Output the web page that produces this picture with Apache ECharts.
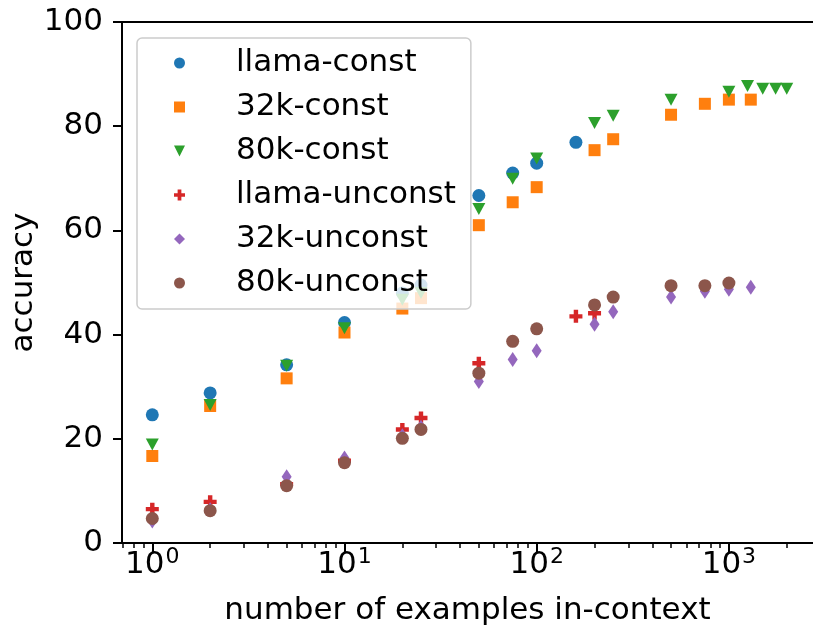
<!DOCTYPE html>
<html>
<head>
<meta charset="utf-8">
<script src="https://cdn.jsdelivr.net/npm/echarts@6/dist/echarts.min.js"></script>
<style>
  html, body { margin: 0; padding: 0; background: #ffffff; }
  #chart { width: 813px; height: 626px; }
</style>
</head>
<body>
<div id="chart"></div>
<script>
// Accuracy vs. number of in-context examples, per model and decoding mode
const FONT = 'DejaVu Sans';
const FS = 31;

const seriesNames = ['llama-const', '32k-const', '80k-const', 'llama-unconst', '32k-unconst', '80k-unconst'];
const seriesColors = ['#1f77b4', '#ff7f0e', '#2ca02c', '#d62728', '#9467bd', '#8c564b'];

const llamaConstX = [1, 2, 5, 10, 20, 25, 50, 75, 100, 160];
const llamaConstY = [24.6, 28.8, 34.2, 42.3, 48.0, 49.5, 66.7, 71.0, 72.9, 76.9];

const k32ConstX = [1, 2, 5, 10, 20, 25, 50, 75, 100, 200, 250, 500, 750, 1000, 1300];
const k32ConstY = [16.7, 26.3, 31.6, 40.4, 45.0, 47.0, 61.0, 65.4, 68.3, 75.4, 77.5, 82.2, 84.3, 85.1, 85.1];

const k80ConstX = [1, 2, 5, 10, 20, 25, 50, 75, 100, 200, 250, 500, 1000, 1250, 1500, 1750, 2000];
const k80ConstY = [18.9, 26.5, 34.0, 41.2, 46.7, 48.0, 64.1, 69.9, 73.8, 80.6, 82.0, 85.1, 86.6, 87.7, 87.2, 87.2, 87.2];

const llamaUnconstX = [1, 2, 5, 10, 20, 25, 50, 160, 200];
const llamaUnconstY = [6.5, 7.9, 11.3, 15.8, 21.8, 24.0, 34.5, 43.5, 44.1];

const k32UnconstX = [1, 2, 5, 10, 20, 25, 50, 75, 100, 200, 250, 500, 750, 1000, 1300];
const k32UnconstY = [4.2, 6.4, 12.7, 16.3, 20.6, 22.2, 31.0, 35.2, 36.9, 42.0, 44.4, 47.2, 48.3, 48.7, 49.1];

const k80UnconstX = [1, 2, 5, 10, 20, 25, 50, 75, 100, 200, 250, 500, 750, 1000];
const k80UnconstY = [4.7, 6.2, 11.0, 15.4, 20.1, 21.8, 32.6, 38.7, 41.1, 45.7, 47.2, 49.4, 49.4, 49.9];

const yTicks = [0, 20, 40, 60, 80, 100];
const xMajorTicks = [1, 10, 100, 1000];
const xMinorTicks = [0.7, 0.8, 0.9, 2, 3, 4, 5, 6, 7, 8, 9, 20, 30, 40, 50, 60, 70, 80, 90,
                     200, 300, 400, 500, 600, 700, 800, 900, 2000];

const X_MIN = 0.6956;
const X_MAX = 2739;

// marker shapes
const SYM_TRI_DOWN = 'path://M0,0L10,0L5,10Z';
const SYM_PLUS = 'path://M3.3,0H6.7V3.3H10V6.7H6.7V10H3.3V6.7H0V3.3H3.3Z';
const seriesSymbols = ['circle', 'rect', SYM_TRI_DOWN, SYM_PLUS, 'diamond', 'circle'];
const seriesSizes = [13, 12, [13, 12], 13, [10, 15], 13];

const xs = [llamaConstX, k32ConstX, k80ConstX, llamaUnconstX, k32UnconstX, k80UnconstX];
const ys = [llamaConstY, k32ConstY, k80ConstY, llamaUnconstY, k32UnconstY, k80UnconstY];

const chart = echarts.init(document.getElementById('chart'), null, { renderer: 'canvas' });

const series = seriesNames.map((name, i) => ({
  name: name,
  type: 'scatter',
  xAxisIndex: 0,
  yAxisIndex: 0,
  symbol: seriesSymbols[i],
  symbolSize: seriesSizes[i],
  itemStyle: { color: seriesColors[i], opacity: 1 },
  emphasis: { disabled: true },
  data: xs[i].map((x, j) => [x, ys[i][j]])
}));

const axisLineStyle = { color: '#000000', width: 2 };

const option = {
  animation: false,
  backgroundColor: '#ffffff',
  textStyle: { fontFamily: FONT },
  grid: { left: 122, right: 0, top: 22, bottom: 83, containLabel: false, outerBoundsMode: 'none' },
  legend: {
    orient: 'vertical',
    left: 137,
    top: 38,
    padding: [8, 15, 9, 37],
    itemWidth: 11,
    itemHeight: 11,
    itemGap: 10,
    selectedMode: false,
    backgroundColor: 'rgba(255,255,255,0.8)',
    borderColor: '#cccccc',
    borderWidth: 1.5,
    borderRadius: 5,
    textStyle: { fontFamily: FONT, fontSize: FS, color: '#000000', lineHeight: 34, padding: [0, 0, 0, 46] },
    data: seriesNames.map((n, i) => ({ name: n, icon: seriesSymbols[i] }))
  },
  xAxis: [
    {
      type: 'log',
      logBase: 10,
      min: X_MIN,
      max: X_MAX,
      position: 'bottom',
      name: 'number of examples in-context',
      nameLocation: 'middle',
      nameGap: 52,
      nameTextStyle: { fontFamily: FONT, fontSize: FS, color: '#000000' },
      axisLine: { show: true, lineStyle: axisLineStyle },
      axisTick: { show: true, inside: false, length: 9, customValues: xMajorTicks, lineStyle: { color: '#000', width: 2 } },
      axisLabel: {
        show: true,
        margin: 7,
        customValues: xMajorTicks,
        formatter: v => '{b|10}{s|' + Math.round(Math.log10(v)) + '}',
        rich: {
          b: { fontFamily: FONT, fontSize: FS, lineHeight: 30, color: '#000' },
          s: { fontFamily: FONT, fontSize: 22, lineHeight: 21, color: '#000', padding: [0, 0, 16, 1] }
        }
      },
      splitLine: { show: false },
      minorTick: { show: false }
    },
    {
      type: 'log',
      logBase: 10,
      min: X_MIN,
      max: X_MAX,
      position: 'bottom',
      axisLine: { show: false },
      axisTick: { show: true, inside: false, length: 5, customValues: xMinorTicks, lineStyle: { color: '#000', width: 1.5 } },
      axisLabel: { show: false },
      splitLine: { show: false }
    },
    {
      type: 'value',
      min: 0,
      max: 1,
      position: 'top',
      axisLine: { show: true, lineStyle: axisLineStyle },
      axisTick: { show: false },
      axisLabel: { show: false },
      splitLine: { show: false }
    }
  ],
  yAxis: {
    type: 'value',
    min: 0,
    max: 100,
    interval: 20,
    name: 'accuracy',
    nameLocation: 'middle',
    nameGap: 83,
    nameMoveOverlap: false,
    nameTextStyle: { fontFamily: FONT, fontSize: FS, color: '#000000' },
    axisLine: { show: true, lineStyle: axisLineStyle },
    axisTick: { show: true, inside: false, length: 9, lineStyle: { color: '#000', width: 2 } },
    axisLabel: {
      show: true,
      margin: 19,
      fontFamily: FONT,
      fontSize: FS,
      color: '#000',
      customValues: yTicks
    },
    splitLine: { show: false }
  },
  series: series
};

chart.setOption(option);
</script>
</body>
</html>
